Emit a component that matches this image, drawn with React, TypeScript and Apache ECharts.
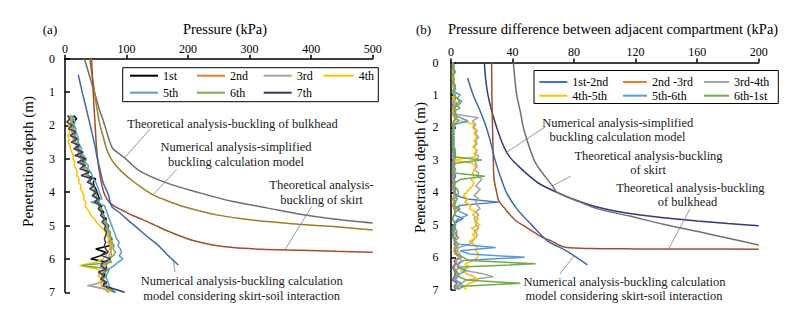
import React, { useEffect, useRef } from 'react';
import * as echarts from 'echarts';

const FONT = 'Liberation Serif';

// ---------------- Panel (a): measured pressure in compartments ----------------
const depthExpA = [1.7, 1.8, 1.9, 2.0,
  2.1, 2.2, 2.3, 2.4, 2.5, 2.6, 2.7, 2.8, 2.9, 3.0,
  3.1, 3.2, 3.3, 3.4, 3.5, 3.6, 3.7, 3.8, 3.9, 4.0,
  4.1, 4.2, 4.3, 4.4, 4.5, 4.6, 4.7, 4.8, 4.9, 5.0,
  5.1, 5.2, 5.3, 5.4, 5.5, 5.6, 5.7, 5.8, 5.9, 6.0,
  6.1, 6.2, 6.3, 6.4, 6.5, 6.6, 6.7, 6.8, 6.9, 7.0];

const exp1st = [14, 19, 13, 15,
  12, 16, 14, 18, 16, 21, 20, 26, 24, 34,
  28, 33, 31, 38, 36, 50, 46, 47, 50, 52,
  54, 56, 53, 60, 58, 63, 61, 67, 65, 71,
  69, 73, 72, 76, 70, 74, 50, 66, 58, 42,
  70, 66, 68, 62, 65, 58, 66, 60, 72, 82];
const exp2nd = [5, 8, 10, 9,
  12, 11, 14, 13, 16, 18, 17, 22, 21, 26,
  25, 30, 29, 35, 34, 40, 39, 44, 43, 48,
  47, 52, 51, 56, 55, 60, 59, 64, 63, 68,
  67, 72, 70, 74, 73, 77, 75, 74, 76, 72,
  70, 60, 66, 60, 62, 58, 60, 40, 66, 72];
const exp3rd = [8, 12, 9, 13,
  11, 15, 13, 17, 16, 20, 19, 24, 23, 28,
  27, 32, 31, 36, 35, 40, 39, 44, 43, 48,
  47, 52, 51, 55, 57, 59, 61, 63, 65, 67,
  69, 71, 72, 73, 74, 76, 73, 75, 71, 74,
  69, 66, 64, 62, 60, 61, 62, 36, 64, 70];
const exp4th = [6, 8, 5, 7,
  6, 8, 4, 7, 5, 8, 9, 11, 14, 13,
  16, 15, 18, 20, 19, 23, 22, 26, 25, 28,
  31, 30, 34, 33, 36, 40, 42, 48, 51, 56,
  62, 66, 68, 71, 70, 74, 72, 70, 66, 62,
  50, 24, 52, 58, 54, 60, 56, 62, 68, 74];
const exp5th = [12, 14, 16, 15,
  18, 17, 20, 22, 21, 24, 27, 26, 30, 34,
  33, 38, 37, 42, 44, 46, 50, 52, 54, 56,
  58, 60, 42, 64, 66, 68, 70, 72, 74, 76,
  78, 80, 82, 84, 88, 86, 90, 92, 88, 94,
  86, 80, 72, 70, 66, 68, 70, 72, 76, 82];
const exp6th = [10, 13, 12, 15,
  14, 17, 16, 19, 21, 20, 24, 23, 27, 30,
  32, 31, 36, 38, 37, 42, 41, 46, 48, 47,
  52, 51, 56, 55, 60, 59, 64, 63, 67, 70,
  69, 74, 73, 77, 76, 80, 78, 82, 79, 70,
  76, 28, 72, 64, 68, 62, 66, 68, 72, 78];
const exp7th = [4, 8, 3, 12,
  6, 18, 8, 20, 10, 24, 14, 30, 16, 34,
  20, 32, 24, 40, 26, 44, 36, 48, 40, 52,
  44, 54, 48, 58, 54, 60, 58, 64, 60, 66,
  64, 68, 66, 64, 66, 64, 66, 70, 60, 74,
  62, 58, 66, 54, 64, 58, 68, 62, 80, 97];

const expNamesA = ['1st', '2nd', '3rd', '4th', '5th', '6th', '7th'];
const expValuesA = [exp1st, exp2nd, exp3rd, exp4th, exp5th, exp6th, exp7th];
const expColorsA = ['#000000', '#ED7D31', '#A5A5A5', '#FFC000', '#5B9BD5', '#70AD47', '#373B62'];

// [pressure kPa, depth m]
const theoBulkheadA = [[31.5, 0], [38, 0.4], [45, 0.84], [51, 1.2], [56, 1.54], [62, 1.85], [67, 2.14], [72, 2.45], [78, 2.7], [97, 2.97], [121, 3.36], [165, 3.72], [219, 4.02], [273, 4.28], [328, 4.47], [382, 4.66], [436, 4.8], [500, 4.92]];
const numSimplifiedA = [[40, 0], [44, 0.5], [48, 1.0], [52, 1.5], [57, 2.0], [63, 2.4], [68, 2.73], [75, 3.0], [84, 3.23], [96, 3.45], [111, 3.68], [126, 3.88], [143, 4.08], [165, 4.25], [192, 4.43], [218, 4.56], [246, 4.68], [285, 4.79], [328, 4.88], [380, 4.96], [436, 5.03], [500, 5.13]];
const theoSkirtA = [[43, 0], [45, 0.7], [47, 1.4], [49, 2.0], [51, 2.6], [53, 3.0], [56, 3.4], [60, 3.8], [65, 4.1], [73, 4.32], [83, 4.45], [94, 4.55], [110, 4.7], [127, 4.83], [145, 4.98], [165, 5.15], [185, 5.3], [208, 5.45], [240, 5.58], [273, 5.66], [320, 5.71], [382, 5.74], [440, 5.77], [500, 5.8]];
const numSkirtSoilA = [[21.5, 0.48], [28, 1.0], [35, 1.53], [41, 2.0], [48.8, 2.62], [51.5, 2.9], [57, 3.33], [62, 3.72], [70, 4.05], [76, 4.43], [88, 4.6], [100, 4.8], [119, 5.1], [133, 5.32], [149, 5.55], [165, 5.85], [184, 6.18]];

// ---------------- Panel (b): pressure difference between compartments ----------------
const depthExpB = [0, 0.1, 0.2, 0.3, 0.4, 0.5, 0.6, 0.7, 0.8, 0.9,
  1.0, 1.1, 1.2, 1.3, 1.4, 1.5, 1.6, 1.7, 1.8, 1.9,
  2.0, 2.1, 2.2, 2.3, 2.4, 2.5, 2.6, 2.7, 2.8, 2.9,
  3.0, 3.1, 3.2, 3.3, 3.4, 3.5, 3.6, 3.7, 3.8, 3.9,
  4.0, 4.1, 4.2, 4.3, 4.4, 4.5, 4.6, 4.7, 4.8, 4.9,
  5.0, 5.1, 5.2, 5.3, 5.4, 5.5, 5.6, 5.7, 5.8, 5.9,
  6.0, 6.1, 6.2, 6.3, 6.4, 6.5, 6.6, 6.7, 6.8, 6.9,
  7.0];

const diff12 = [1, 2, 1, 2, 1, 1, 2, 1, 2, 1,
  2, 3, 2, 1, 2, 1, 2, 4, 2, 1,
  2, 1, 2, 1, 2, 1, 2, 1, 2, 3,
  2, 1, 2, 1, 2, 3, 2, 1, 2, 3,
  2, 4, 10, 31, 6, 2, 3, 2, 8, 4,
  2, 1, 2, 1, 2, 3, 2, 4, 2, 3,
  6, 2, 3, 1, 2, 3, 2, 1, 4, 2,
  3];
const diff23 = [1, 1, 2, 1, 1, 2, 1, 1, 2, 1,
  2, 1, 2, 3, 1, 2, 1, 3, 2, 1,
  2, 1, 1, 2, 1, 2, 1, 2, 1, 2,
  3, 2, 1, 2, 1, 2, 1, 2, 1, 2,
  3, 2, 1, 2, 1, 2, 3, 2, 1, 2,
  3, 2, 4, 3, 5, 2, 3, 4, 2, 3,
  7, 3, 4, 2, 3, 5, 3, 2, 7, 3,
  2];
const diff34 = [1, 2, 1, 2, 1, 1, 2, 1, 2, 1,
  3, 2, 1, 2, 3, 2, 4, 17.8, 14, 16,
  15, 17, 16, 18, 16, 17, 15, 17, 16, 18,
  16, 16, 17, 15, 18, 17, 20, 18, 16, 19,
  17, 15, 18, 16, 17, 19, 16, 18, 15, 17,
  16, 18, 15, 17, 16, 14, 12, 5, 4, 6,
  5, 7, 4, 6, 8, 20, 27.5, 10, 6, 4,
  5];
const diff45 = [1, 2, 1, 1, 2, 1, 2, 1, 2, 1,
  2, 2, 3, 4.5, 2, 1, 2, 3, 6, 15,
  14, 16, 15, 17, 15, 16, 14, 17, 15, 16,
  1, 14, 16, 15, 14, 15, 13, 15, 14, 12,
  10, 8, 11, 9, 13, 12, 16, 14, 18, 15,
  19, 13, 17, 14, 16, 12, 15, 17, 16, 18,
  17.5, 14, 9, 12, 6, 10, 15, 18, 12, 8,
  10];
const diff56 = [2, 1, 2, 3, 1, 2, 1, 2, 3, 2,
  6, 4, 7, 5, 2, 3, 2, 6, 11, 3,
  2, 1, 2, 1, 2, 1, 2, 3, 2, 1,
  2, 1, 2, 3, 2, 1, 2, 3, 2, 1,
  2, 3, 4, 3, 2, 4, 6, 11, 5, 3,
  2, 3, 2, 4, 3, 2, 5, 29, 6, 12,
  48, 8, 5, 4, 10, 6, 4, 3, 6, 8,
  4];
const diff61 = [1, 2, 1, 2, 1, 2, 1, 3, 2, 1,
  2, 4, 5.8, 3, 6, 2, 3, 2, 5, 2,
  1, 2, 1, 2, 1, 2, 1, 2, 3, 2,
  20, 3, 2, 1, 2, 22, 6, 3, 2, 4,
  5, 4, 2, 3, 2, 6, 3, 2, 1, 2,
  3, 2, 1, 2, 1, 3, 5, 2, 3, 4,
  8, 12, 55, 6, 3, 4, 5, 10, 45, 5,
  2];

const expNamesB = ['1st-2nd', '2nd -3rd', '3rd-4th', '4th-5th', '5th-6th', '6th-1st'];
const expValuesB = [diff12, diff23, diff34, diff45, diff56, diff61];
const expColorsB = ['#4472C4', '#ED7D31', '#A5A5A5', '#FFC000', '#5B9BD5', '#70AD47'];

const numSimplifiedB = [[21.7, 0], [22.5, 0.5], [24, 1.0], [26.5, 1.5], [29.7, 2.0], [33.5, 2.5], [38, 2.9], [44, 3.2], [51, 3.5], [58, 3.75], [69, 4.0], [80, 4.22], [95, 4.45], [116, 4.65], [138, 4.78], [160, 4.88], [180, 4.96], [200, 5.03]];
const theoSkirtB = [[40.5, 0], [41.5, 0.5], [42.7, 1.0], [45, 1.5], [47, 2.0], [49.5, 2.4], [51.6, 2.7], [55, 3.1], [61, 3.5], [66, 3.8], [69, 4.0], [84, 4.3], [95, 4.5], [116, 4.73], [138, 4.98], [160, 5.2], [181, 5.42], [200, 5.62]];
const theoBulkheadB = [[26.4, 0], [26.6, 1], [27, 2], [27.5, 3], [28, 3.6], [29.7, 4.0], [31, 4.25], [35, 4.5], [41.6, 4.85], [48, 5.05], [54.6, 5.25], [60, 5.4], [65.5, 5.5], [70, 5.62], [75, 5.7], [90, 5.73], [120, 5.74], [160, 5.745], [200, 5.75]];
const numSkirtSoilB = [[10.8, 0.48], [14.4, 1.0], [19, 1.5], [23, 2.0], [26, 2.5], [28.6, 3.0], [32, 3.5], [36, 4.0], [42.7, 4.5], [52.4, 5.0], [63, 5.5], [75, 5.8], [88.7, 6.23]];

// ---------------- Texts ----------------
const annotationLines = [
  { t: 'Theoretical analysis-buckling of bulkhead', x: 232.5, y: 124 },
  { t: 'Numerical analysis-simplified', x: 236, y: 146.7 },
  { t: 'buckling calculation model', x: 236, y: 161.7 },
  { t: 'Theoretical analysis-', x: 321.5, y: 185 },
  { t: 'buckling of skirt', x: 321.5, y: 200 },
  { t: 'Numerical analysis-buckling calculation', x: 241.7, y: 281 },
  { t: 'model considering skirt-soil interaction', x: 241.7, y: 295.7 },
  { t: 'Numerical analysis-simplified', x: 617.8, y: 122.7 },
  { t: 'buckling calculation model', x: 617.5, y: 136.7 },
  { t: 'Theoretical analysis-buckling', x: 648.5, y: 156 },
  { t: 'of skirt', x: 648, y: 169.5 },
  { t: 'Theoretical analysis-buckling', x: 690.3, y: 187.7 },
  { t: 'of bulkhead', x: 687.5, y: 201.7 },
  { t: 'Numerical analysis-buckling calculation', x: 624.5, y: 281.7 },
  { t: 'model considering skirt-soil interaction', x: 624, y: 295.7 },
];

// leader lines: start in pixels (near text), end at a data point [pressure, depth] on a curve
const leaders = [
  { from: [150, 129], grid: 0, to: [97, 2.97] },
  { from: [176.7, 169.5], grid: 0, to: [143, 4.08] },
  { from: [311.7, 206.5], grid: 0, to: [357, 5.735] },
  { from: [175, 272], grid: 0, to: [176, 6.05] },
  { from: [545, 127], grid: 1, to: [35.3, 2.79] },
  { from: [571, 176], grid: 1, to: [66, 3.8] },
  { from: [690, 209], grid: 1, to: [141.5, 5.743] },
  { from: [560, 274], grid: 1, to: [80, 5.95] },
];

function buildOption() {
  const series: any[] = [];
  expNamesA.forEach((name, i) => {
    series.push({
      name, type: 'line', xAxisIndex: 0, yAxisIndex: 0, symbol: 'none', showSymbol: false,
      lineStyle: { width: 1.5, color: expColorsA[i] }, itemStyle: { color: expColorsA[i] },
      data: depthExpA.map((d, k) => [expValuesA[i][k], d]), z: 2, silent: true,
    });
  });
  expNamesB.forEach((name, i) => {
    series.push({
      name, type: 'line', xAxisIndex: 1, yAxisIndex: 1, symbol: 'none', showSymbol: false,
      lineStyle: { width: 1.5, color: expColorsB[i] }, itemStyle: { color: expColorsB[i] },
      data: depthExpB.map((d, k) => [expValuesB[i][k], d]), z: 2, silent: true,
    });
  });
  const theo = [
    { name: 'A theoretical bulkhead', g: 0, data: theoBulkheadA, color: '#6E6E6E' },
    { name: 'A numerical simplified', g: 0, data: numSimplifiedA, color: '#9E7D25' },
    { name: 'A theoretical skirt', g: 0, data: theoSkirtA, color: '#A0502A' },
    { name: 'A numerical skirt-soil', g: 0, data: numSkirtSoilA, color: '#3F67B0' },
    { name: 'B numerical simplified', g: 1, data: numSimplifiedB, color: '#2E3A7A' },
    { name: 'B theoretical skirt', g: 1, data: theoSkirtB, color: '#707070' },
    { name: 'B theoretical bulkhead', g: 1, data: theoBulkheadB, color: '#A0502A' },
    { name: 'B numerical skirt-soil', g: 1, data: numSkirtSoilB, color: '#3F67B0' },
  ];
  theo.forEach((s) => {
    series.push({
      name: s.name, type: 'line', xAxisIndex: s.g, yAxisIndex: s.g, symbol: 'none', showSymbol: false,
      smooth: 0.3, lineStyle: { width: 1.5, color: s.color }, itemStyle: { color: s.color },
      data: s.data, z: 3, silent: true,
    });
  });

  const axisLine = { show: true, onZero: false, lineStyle: { color: '#000', width: 1.5 } };
  const labelStyle = { fontFamily: FONT, fontSize: 12, color: '#000' };
  const xAxisCommon = {
    type: 'value', position: 'top', axisLine,
    axisTick: { show: true, inside: false, length: 4, lineStyle: { color: '#000', width: 1.5 } },
    splitLine: { show: false },
  };
  const yAxisCommon = {
    type: 'value', inverse: true, min: 0, max: 7, interval: 1, axisLine,
    axisTick: { show: true, inside: true, length: 5, lineStyle: { color: '#000', width: 1.5 } },
    splitLine: { show: false },
  };
  const legendCommon = {
    orient: 'vertical', itemWidth: 28, itemHeight: 14, itemGap: 5, padding: 0,
    selectedMode: false, z: 10,
    itemStyle: { opacity: 0 },
    lineStyle: { width: 2 },
    textStyle: { fontFamily: FONT, fontSize: 12, color: '#000' },
  };

  return {
    animation: false,
    textStyle: { fontFamily: FONT },
    grid: [
      { left: 65, top: 58.7, width: 307.7, height: 233.6 },
      { left: 451, top: 62.5, width: 307.7, height: 227.3 },
    ],
    xAxis: [
      { ...xAxisCommon, gridIndex: 0, min: 0, max: 500, interval: 100, axisLabel: { ...labelStyle, margin: 4 } },
      { ...xAxisCommon, gridIndex: 1, min: 0, max: 200, interval: 40, axisLabel: { ...labelStyle, margin: 5 } },
    ],
    yAxis: [
      { ...yAxisCommon, gridIndex: 0, axisLabel: { ...labelStyle, margin: 10 } },
      { ...yAxisCommon, gridIndex: 1, axisLabel: { ...labelStyle, margin: 12.5 } },
    ],
    legend: [
      { ...legendCommon, left: 129, top: 69.7, data: ['1st', '5th'] },
      { ...legendCommon, left: 196, top: 69.7, data: ['2nd', '6th'] },
      { ...legendCommon, left: 262.7, top: 69.7, data: ['3rd', '7th'] },
      { ...legendCommon, left: 322.7, top: 69.7, itemWidth: 30, data: ['4th'] },
      { ...legendCommon, left: 538.3, top: 76, itemGap: 1.7, data: ['1st-2nd', '4th-5th'] },
      { ...legendCommon, left: 622, top: 76, itemGap: 1.7, itemWidth: 24, data: ['2nd -3rd', '5th-6th'] },
      { ...legendCommon, left: 703, top: 76, itemGap: 1.7, itemWidth: 25, data: ['3rd-4th', '6th-1st'] },
    ],
    series,
  };
}

function staticGraphics() {
  const g: any[] = [];
  g.push({ type: 'rect', z: 5, shape: { x: 122.7, y: 67.7, width: 255.6, height: 34 }, style: { fill: '#fff', stroke: '#000', lineWidth: 1 } });
  g.push({ type: 'rect', z: 5, shape: { x: 534, y: 70.5, width: 244.3, height: 33 }, style: { fill: '#fff', stroke: '#000', lineWidth: 1 } });
  const txt = (text: string, x: number, y: number, size: number, extra: any = {}) => ({
    type: 'text', z: 6, x, y, ...extra,
    style: { text, fontFamily: FONT, fontSize: size, fill: '#000', align: 'center', verticalAlign: 'middle' },
  });
  g.push(txt('(a)', 50, 29, 13));
  g.push(txt('Pressure (kPa)', 225, 28.5, 14.5));
  g.push(txt('(b)', 423.5, 29, 13));
  g.push(txt('Pressure difference between adjacent compartment (kPa)', 613, 29, 14.5));
  g.push(txt('Penetration depth (m)', 28, 161.5, 15, { rotation: Math.PI / 2 }));
  g.push(txt('Penetration depth (m)', 419.5, 167.5, 15, { rotation: Math.PI / 2 }));
  annotationLines.forEach((a) => {
    g.push({
      type: 'text', z: 6, x: a.x, y: a.y,
      style: { text: a.t, fontFamily: FONT, fontSize: 12.5, fill: '#1a1a1a', align: 'center', verticalAlign: 'middle' },
    });
  });
  return g;
}

export default function App() {
  const ref = useRef<HTMLDivElement>(null);
  useEffect(() => {
    if (!ref.current) return;
    const chart = echarts.init(ref.current, null, { renderer: 'svg' });
    chart.setOption(buildOption() as any);
    const g = staticGraphics();
    leaders.forEach((l) => {
      const p = chart.convertToPixel({ xAxisIndex: l.grid, yAxisIndex: l.grid } as any, l.to) as number[];
      g.push({
        type: 'line', z: 6,
        shape: { x1: l.from[0], y1: l.from[1], x2: p[0], y2: p[1] },
        style: { stroke: '#7F7F7F', lineWidth: 0.8 },
      });
    });
    chart.setOption({ graphic: g });
    return () => chart.dispose();
  }, []);
  return (
    <div
      ref={ref}
      style={{ position: 'fixed', left: 0, top: 0, width: 797, height: 314, background: '#fff' }}
    />
  );
}
